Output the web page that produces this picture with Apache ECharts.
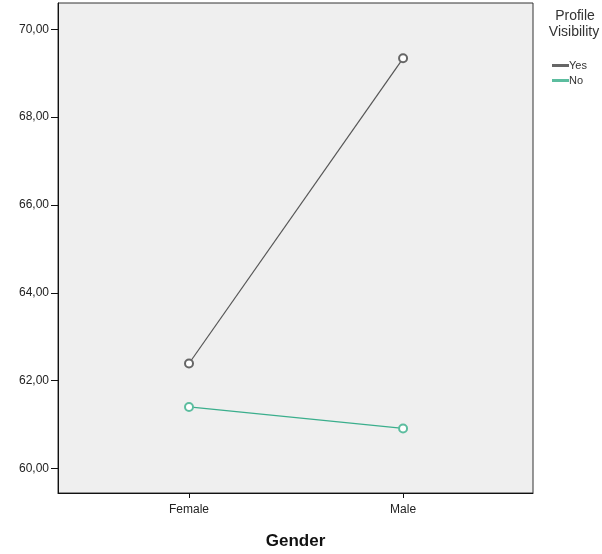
<!DOCTYPE html>
<html>
<head>
<meta charset="utf-8">
<script src="https://cdn.jsdelivr.net/npm/echarts@6/dist/echarts.min.js"></script>
<style>html,body{margin:0;padding:0;background:#fff}#c{width:602px;height:554px}</style>
</head>
<body>
<div id="c"></div>
<script>
const categories = ['Female', 'Male'];
const yesValues = [62.39, 69.34];
const noValues = [61.40, 60.91];
const yTicks = [60, 62, 64, 66, 68, 70];
const seriesNames = ['Yes', 'No'];

const chart = echarts.init(document.getElementById('c'), null, {renderer: 'canvas'});
const font = 'Liberation Sans, Arial, sans-serif';
const toPts = arr => arr.map((v, i) => [i, v]);

chart.setOption({
  animation: false,
  backgroundColor: '#ffffff',
  grid: {
    left: 58, top: 3, right: 69, bottom: 61,
    containLabel: false, outerBoundsMode: 'none',
    show: true, backgroundColor: '#efefef', borderColor: '#333', borderWidth: 1
  },
  graphic: [
    { type: 'text', x: 575, y: 9, style: { text: 'Profile', font: '14px ' + font, fill: '#333', align: 'center' } },
    { type: 'text', x: 574, y: 25, style: { text: 'Visibility', font: '14px ' + font, fill: '#333', align: 'center' } }
  ],
  legend: {
    data: seriesNames,
    orient: 'vertical',
    left: 547, top: 55,
    itemWidth: 15, itemHeight: 1, itemGap: 4,
    icon: 'rect',
    textStyle: { fontFamily: font, fontSize: 11, color: '#333', padding: [0, 0, 0, -4] }
  },
  xAxis: {
    type: 'value',
    min: -0.612, max: 1.607,
    name: 'Gender',
    nameLocation: 'middle', nameGap: 40,
    nameTextStyle: { fontFamily: font, fontSize: 17, fontWeight: 'bold', color: '#111' },
    axisLine: { show: true, onZero: false, lineStyle: { color: '#111', width: 1 } },
    axisTick: { show: true, inside: false, customValues: [0, 1], length: 5, lineStyle: { color: '#111' } },
    axisLabel: {
      customValues: [0, 1], formatter: v => categories[Math.round(v)],
      fontFamily: font, fontSize: 12, color: '#222', margin: 11
    },
    splitLine: { show: false }
  },
  yAxis: {
    type: 'value',
    min: 59.44, max: 70.6,
    axisLine: { show: true, onZero: false, lineStyle: { color: '#111', width: 1 } },
    axisTick: { show: true, inside: false, customValues: yTicks, length: 7, lineStyle: { color: '#111' } },
    axisLabel: {
      customValues: yTicks, formatter: v => v.toFixed(2).replace('.', ','),
      fontFamily: font, fontSize: 12, color: '#222', margin: 9
    },
    splitLine: { show: false }
  },
  series: [
    {
      name: 'Yes', type: 'line', data: toPts(yesValues),
      symbol: 'emptyCircle', symbolSize: 8,
      lineStyle: { color: '#555555', width: 1.2 },
      itemStyle: { color: '#666666', borderColor: '#666666', borderWidth: 1 }
    },
    {
      name: 'No', type: 'line', data: toPts(noValues),
      symbol: 'emptyCircle', symbolSize: 8,
      lineStyle: { color: '#3aae8c', width: 1.2 },
      itemStyle: { color: '#5cbd9f', borderColor: '#5cbd9f', borderWidth: 1 }
    }
  ]
});
</script>
</body>
</html>
